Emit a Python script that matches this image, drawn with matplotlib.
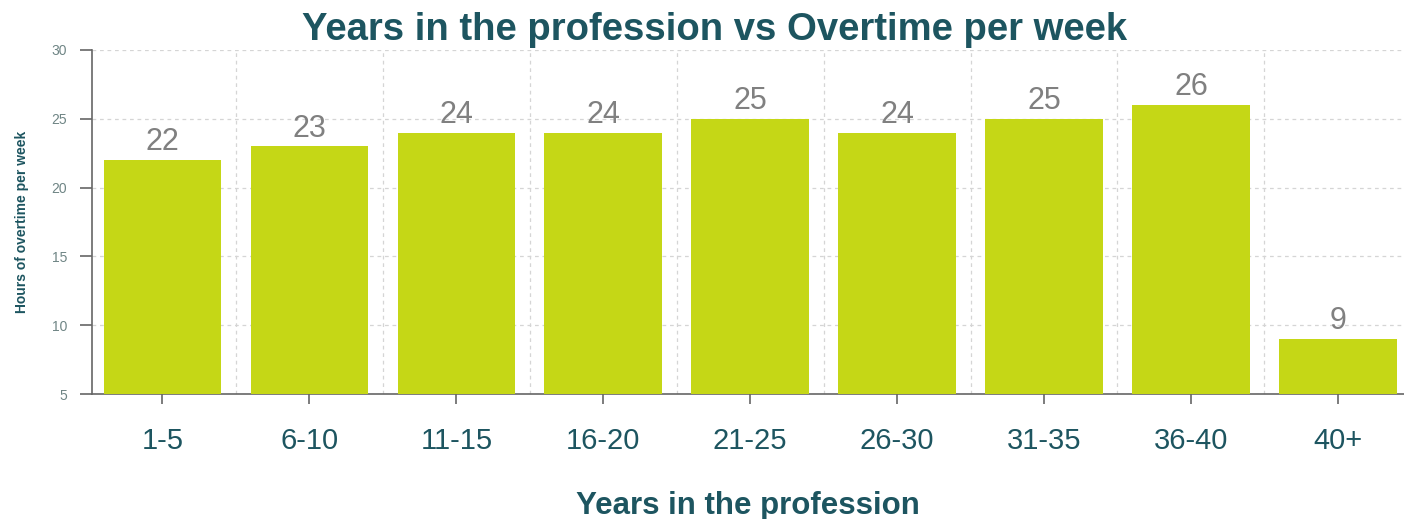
import matplotlib.pyplot as plt
import numpy as np

# overtime survey: hours per week by years in the profession
categories = ['1-5', '6-10', '11-15', '16-20', '21-25', '26-30', '31-35', '36-40', '40+']
overtime = [22, 23, 24, 24, 25, 24, 25, 26, 9]
y_ticks = [5, 10, 15, 20, 25, 30]

plt.rcParams['font.family'] = ['Liberation Sans', 'DejaVu Sans']

teal = '#1d5560'
bar_color = '#c5d716'
grey = '#808080'


def main():

    fig = plt.figure(figsize=(14.04, 5.19), dpi=100)
    ax = fig.add_axes([0.0655, 0.2408, 0.9345, 0.6629])

    x = np.arange(len(categories))
    bars = ax.bar(x, overtime, width=0.8, bottom=0, color=bar_color, zorder=3)

    for rect, val in zip(bars, overtime):
        ax.text(rect.get_x() + rect.get_width() / 2, val + 0.2, f'{val}',
                ha='center', va='bottom', fontsize=22, color=grey, zorder=4)

    ax.set_ylim(5, 30)
    ax.set_xlim(-0.48, 8.45)

    ax.set_yticks(y_ticks)
    ax.set_xticks(x)
    ax.set_xticklabels(categories)
    ax.set_xticks(x[:-1] + 0.5, minor=True)

    ax.tick_params(axis='y', labelsize=10, labelcolor='#6f8585', color='#666666',
                   length=9, width=1.2, pad=9)
    ax.tick_params(axis='x', which='major', labelsize=21, labelcolor=teal,
                   color='#666666', length=7, width=1.2, pad=17)
    ax.tick_params(axis='x', which='minor', length=0)

    ax.grid(axis='y', which='major', linestyle=(0, (3, 3)), color='#d5d5d5',
            linewidth=0.9, zorder=0)
    ax.grid(axis='x', which='minor', linestyle=(0, (3, 3)), color='#d5d5d5',
            linewidth=0.9, zorder=0)

    for side in ('top', 'right'):
        ax.spines[side].set_visible(False)
    for side in ('left', 'bottom'):
        ax.spines[side].set_color('#666666')
        ax.spines[side].set_linewidth(1.2)

    ax.set_ylabel('Hours of overtime per week', fontsize=10, fontweight='bold',
                  color=teal, labelpad=16)
    ax.set_xlabel('Years in the profession', fontsize=22.5, fontweight='bold',
                  color=teal, labelpad=25.5)

    fig.text(0.509, 0.942, 'Years in the profession vs Overtime per week',
             ha='center', va='center', fontsize=27.5, fontweight='bold', color=teal)

    fig.savefig('out.png', dpi=100)


if __name__ == "__main__":

    main()
